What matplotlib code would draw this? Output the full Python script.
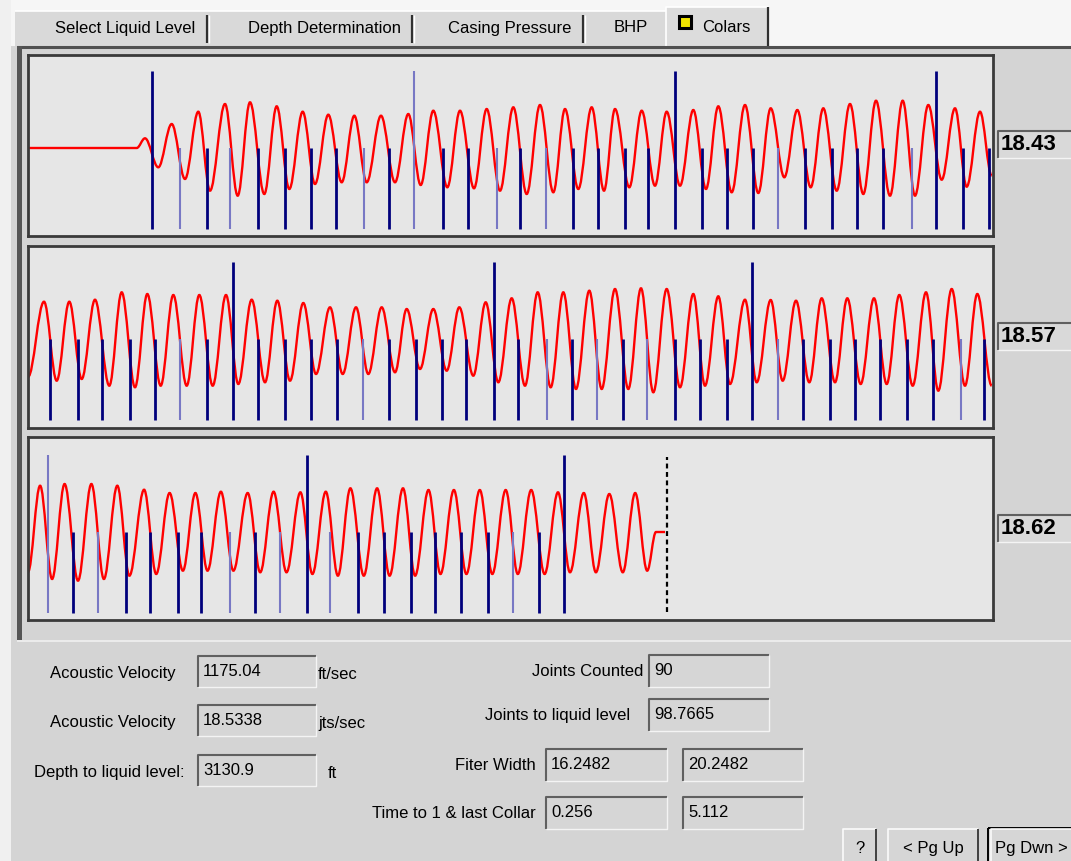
import matplotlib
matplotlib.use('Agg')
import matplotlib.pyplot as plt
from matplotlib.patches import Rectangle, PathPatch
from matplotlib.path import Path
from matplotlib import font_manager

# ---- data ----
# waveform extrema per panel: x = px from panel left, y = px above collar baseline
p1_x = [0, 108.7, 117, 130.3, 143.7, 157, 170.3, 182, 197, 209.7, 222, 236.3, 248.7, 261.3,
        274.7, 287, 300.3, 313.7, 326.3, 338.7, 353, 367, 380.3, 392.7, 405.3, 419.3, 432,
        446, 458.7, 472, 485.3, 498.7, 512, 525.3, 537, 550.3, 563.7, 576, 587, 601.3, 613.7,
        627, 638.7, 652, 665.3, 678, 690.3, 703.7, 717, 730.3, 742.7, 756.3, 769.3, 782.7,
        795.3, 808.7, 822, 835.3, 848, 862, 874.7, 887, 900.3, 913.7, 927, 938.7, 952, 963.7]
p1_y = [0, 0, 9.7, -19.3, 24, -31, 36.3, -42.7, 44, -47.7, 45.7, -46, 41.7, -41,
        36.3, -36, 33.3, -34.3, 32.3, -34.3, 32.3, -34.3, 34, -37, 37.3, -39.3, 37.3,
        -40.3, 39, -42.7, 40.7, -46, 43, -44.3, 39, -41, 40.7, -42.7, 39, -39.3, 37.3,
        -37.7, 36.3, -37.7, 38, -41, 41.7, -44.3, 43, -45, 39.7, -29.3, 38, -39.3,
        39.7, -42.7, 44, -46, 47.3, -47.7, 47.3, -47.7, 43, -31.7, 39.7, -38.7, 36.3, -27.7]

p2_x = [0, 16, 28.7, 41.3, 53.7, 67, 81.3, 93.7, 107, 119.3, 132.7, 145.3, 158.7, 171.3,
        184.7, 198, 210.3, 223.7, 237, 249.3, 262, 275.3, 288, 302, 314.7, 328, 340.3, 353.7,
        367, 378.7, 392, 405.3, 418.7, 431.3, 445.3, 457.7, 470.3, 483.7, 497, 509.7, 522.7,
        535.3, 548, 561.3, 573.7, 587, 600.3, 613, 625.3, 638.7, 652, 665.3, 677, 690.3, 702,
        717, 728.7, 742.7, 754.7, 768, 781.3, 793.7, 807, 819.3, 832.7, 846, 858.7, 871.3,
        884.7, 898, 910.3, 923.7, 937, 949.3, 963.7]
p2_y = [-38, 37.3, -41.7, 37.3, -40, 39.3, -46.7, 46.7, -48.3, 45, -46.7, 44, -46.7, 44,
        -46.7, 44, -45, 39.3, -43.3, 38.3, -41.7, 36, -35, 31.7, -35, 31.7, -35, 31.7,
        -33.3, 30, -30, 30, -31.7, 31.7, -36.7, 36.7, -43.3, 40.7, -46.7, 46.7, -48.3,
        46.7, -50, 48.3, -50, 50, -50, 50.7, -53.3, 50, -48.3, 45, -46.7, 42.7, -45,
        39.3, -43.3, 39, -41.7, 38.3, -43.3, 40.7, -43.3, 40.7, -45, 40.7, -45, 44,
        -46.7, 46.7, -51.7, 50, -46.7, 45, -46.7]

p3_x = [0, 12.1, 24.1, 36.6, 50, 63.4, 75.9, 89.3, 101.4, 116.1, 128.2, 141.6, 154.9, 167.4,
        179.5, 192.9, 205.4, 219.7, 232.2, 245.6, 258.5, 272.4, 284.4, 297.8, 309.9, 322.4,
        335.8, 349.1, 361.6, 375, 387.1, 400.5, 412.5, 425.9, 438.4, 451.8, 464.3, 477.7,
        489.8, 503.2, 516.6, 530, 542, 555.8, 567.9, 581.3, 594.8, 607.2, 619.2, 628, 637]
p3_y = [-40, 46.3, -47, 48, -48.7, 48, -47, 46.3, -43.7, 42.3, -42, 39, -38.7, 39,
        -38.7, 40.3, -38.7, 39, -40.3, 40.3, -40.3, 39.7, -42, 40.3, -43.7, 43.7,
        -43.7, 43.7, -43.7, 43.7, -43.7, 42, -42, 42, -42, 42, -42, 42,
        -42, 42, -42, 39.7, -40.3, 39, -40.3, 38, -40.3, 39, -38.7, 0, 0]

# collar marks: T = every 10th joint (tall), L = faint mark, D = normal mark
c1_x = [124, 152, 178.7, 202, 230.3, 257, 282.7, 308, 336, 361, 386, 414.7, 440.3, 468.7, 492,
        518, 544.7, 570.3, 597, 620.3, 647, 673.7, 698.7, 725.3, 750.3, 777, 803.7, 828.7,
        855.3, 883.7, 908, 934.7, 961.3]
c1_kind = ['T', 'L', 'D', 'L', 'D', 'D', 'D', 'D', 'L', 'D', 'TL', 'D', 'D', 'L', 'D',
           'L', 'D', 'D', 'D', 'D', 'T', 'D', 'D', 'D', 'L', 'D', 'D', 'D',
           'D', 'L', 'T', 'D', 'D']
c2_x = [22, 50.3, 73.7, 102, 127, 152, 178.7, 205.3, 230.3, 257, 282.7, 308.7, 335.3, 361,
        387.7, 414.3, 437.7, 466, 490.3, 518.7, 543.7, 568.7, 595.3, 618.7, 647, 672, 698.7,
        723.7, 750.3, 775.3, 802, 827, 852, 878.7, 904.7, 932.7, 956]
c2_kind = ['D', 'D', 'D', 'D', 'D', 'L', 'D', 'T', 'D', 'D', 'D', 'D', 'L', 'D',
           'D', 'D', 'D', 'T', 'D', 'L', 'D', 'L', 'D', 'L', 'D', 'D', 'D',
           'T', 'L', 'D', 'D', 'D', 'D', 'D', 'D', 'L', 'D']
c3_x = [19.7, 44.7, 70.1, 98.3, 121.5, 149.6, 172.8, 201.8, 227.3, 252.3, 278.6, 302.3,
        330.4, 355.8, 382.6, 407.2, 433.1, 459.5, 485.3, 511.2, 535.8]
c3_kind = ['TL', 'D', 'L', 'D', 'D', 'D', 'D', 'L', 'D', 'L', 'T', 'L',
           'D', 'D', 'D', 'D', 'D', 'D', 'L', 'D', 'T']
liquid_level_x = 639

panel_values = ['18.43', '18.57', '18.62']
tab_labels = ['Select Liquid Level', 'Depth Determination', 'Casing Pressure', 'BHP', 'Colars']
left_labels = ['Acoustic Velocity', 'Acoustic Velocity', 'Depth to liquid level:']
left_values = ['1175.04', '18.5338', '3130.9']
left_units = ['ft/sec', 'jts/sec', 'ft']
right_labels = ['Joints Counted', 'Joints to liquid level', 'Fiter Width', 'Time to 1 & last Collar']
right_values = [['90'], ['98.7665'], ['16.2482', '20.2482'], ['0.256', '5.112']]
button_labels = ['?', '< Pg Up', 'Pg Dwn >']

# ---- fonts ----
installed = {f.name for f in font_manager.fontManager.ttflist}
if 'Liberation Sans Narrow' in installed:
    UI_FONT, UI_SIZE = ['Liberation Sans Narrow', 'DejaVu Sans'], 14.5
else:
    UI_FONT, UI_SIZE = ['Liberation Sans', 'DejaVu Sans'], 12
plt.rcParams['font.family'] = UI_FONT

W, H = 1071, 862
BG = '#d4d4d4'
fig = plt.figure(figsize=(W / 100, H / 100), dpi=100)
fig.patch.set_facecolor(BG)

# window chrome in pixel coordinates
ui = fig.add_axes([0, 0, 1, 1])
ui.set_xlim(0, W)
ui.set_ylim(H, 0)
ui.axis('off')


def line(xs, ys, c, lw=1.0, z=2):
    ui.plot(xs, ys, color=c, lw=lw, solid_capstyle='butt', zorder=z)


def sunken(x0, y0, x1, y1, txt, fc='#d6d6d6', bold=False, size=UI_SIZE):
    ui.add_patch(Rectangle((x0, y0), x1 - x0, y1 - y0, fc=fc, ec='none', zorder=1))
    line([x0, x0, x1], [y1, y0, y0], '#606060', 1.5)
    line([x0, x1, x1], [y1, y1, y0], '#f4f4f4', 1.0)
    ui.text(x0 + (3 if bold else 5), (y0 + y1) / 2 - 1, txt, fontsize=size, va='center',
            ha='left', fontweight='bold' if bold else 'normal',
            family=['Liberation Sans', 'DejaVu Sans'] if bold else UI_FONT, zorder=3)


# top strip and left margin
ui.add_patch(Rectangle((0, 0), W, 47, fc='#f6f6f6', ec='none', zorder=0))
ui.add_patch(Rectangle((0, 0), 11, H, fc='#f0f0f0', ec='none', zorder=0))
ui.add_patch(Rectangle((15, 12), 651, 35, fc='#d9d9d9', ec='none', zorder=1))
ui.add_patch(Rectangle((666, 8), 102, 40, fc='#dcdcdc', ec='none', zorder=1))
line([15, 666], [12, 12], '#ffffff', 1.2)
line([666, 666, 768], [47, 8, 8], '#ffffff', 1.2)
line([768, 768], [8, 47], '#303030', 1.6)
for sx in [207, 412, 583]:
    line([sx, sx], [16, 44], '#303030', 1.6)
    line([sx + 2, sx + 2], [16, 44], '#ffffff', 1.0)
tab_cx = [125, 324, 510, 631, 726]
for lbl, cx in zip(tab_labels, tab_cx):
    ui.text(cx, 28, lbl, fontsize=UI_SIZE, ha='center', va='center', zorder=3)
ui.add_patch(Rectangle((679, 17), 12, 12, fc='#f2e600', ec='black', lw=2.2, zorder=3))

# frame around the plot area
line([17, W], [48, 48], '#505050', 2.2)
ui.add_patch(Rectangle((17, 47), 4.5, 594, fc='#555555', ec='none', zorder=2))
line([17, W], [642, 642], '#ececec', 1.4)

# ---- the three collar panels ----
panel_boxes = [(56, 237), (247, 429), (438, 621)]
baselines = [149, 340, 533]
waves = [(p1_x, p1_y), (p2_x, p2_y), (p3_x, p3_y)]
collars = [(c1_x, c1_kind), (c2_x, c2_kind), (c3_x, c3_kind)]
value_box_top = [132, 324, 516]


def wave_path(xs, ys, k=0.36):
    verts = [(xs[0], ys[0])]
    codes = [Path.MOVETO]
    for i in range(1, len(xs)):
        x0, y0, x1, y1 = xs[i - 1], ys[i - 1], xs[i], ys[i]
        dx = x1 - x0
        verts += [(x0 + k * dx, y0), (x1 - k * dx, y1), (x1, y1)]
        codes += [Path.CURVE4] * 3
    return Path(verts, codes)


for i in range(3):
    top, bot = panel_boxes[i]
    base = baselines[i]
    ax = fig.add_axes([28 / W, 1 - bot / H, 965 / W, (bot - top) / H])
    ax.set_facecolor('#e6e6e6')
    ax.set_xlim(0, 965)
    ax.set_ylim(base - bot, base - top)
    ax.set_xticks([])
    ax.set_yticks([])
    for sp in ax.spines.values():
        sp.set_color('#3a3a3a')
        sp.set_linewidth(2.0)

    xs, ys = waves[i]
    ax.add_patch(PathPatch(wave_path(xs, ys), fc='none', ec='#ff0000', lw=1.7, zorder=2))

    cx, kinds = collars[i]
    for x, kd in zip(cx, kinds):
        col = '#7878c4' if 'L' in kd else '#00007c'
        lw = 1.5 if 'L' in kd else 2.0
        ytop = 77.5 if 'T' in kd else 0
        ax.vlines(x, -81, ytop, colors=col, lw=lw, zorder=3)

    if i == 2:
        ax.vlines(liquid_level_x, -80, 75, colors='black', lw=1.6,
                  linestyles=(0, (2.2, 1.6)), zorder=3)

    # reading box at the right of each panel
    y0 = value_box_top[i]
    sunken(998, y0, W + 5, y0 + 27, panel_values[i], fc='#d9d9d9', bold=True, size=16)

# ---- fields below the plots ----
left_row_y = [657, 706, 756]
left_label_right = [176, 176, 184]
left_unit_x = [318, 318, 328]
for lbl, val, unit, y0, lx, ux in zip(left_labels, left_values, left_units,
                                       left_row_y, left_label_right, left_unit_x):
    ui.text(lx, y0 + 17, lbl, fontsize=UI_SIZE, ha='right', va='center')
    sunken(198, y0, 316, y0 + 31, val)
    ui.text(ux, y0 + 18, unit, fontsize=UI_SIZE, ha='left', va='center')

right_row_y = [656, 700, 750, 798]
right_label_right = [643, 630, 536, 536]
right_box_x = [[(649, 769)], [(649, 769)], [(546, 667), (683, 803)], [(546, 667), (683, 803)]]
for lbl, vals, y0, lx, boxes in zip(right_labels, right_values, right_row_y,
                                    right_label_right, right_box_x):
    ui.text(lx, y0 + 16, lbl, fontsize=UI_SIZE, ha='right', va='center')
    for v, (bx0, bx1) in zip(vals, boxes):
        sunken(bx0, y0, bx1, y0 + 32, v)

# buttons
button_x = [(842, 877), (887, 979), (988, W + 10)]
for j, (lbl, (bx0, bx1)) in enumerate(zip(button_labels, button_x)):
    ui.add_patch(Rectangle((bx0, 829), bx1 - bx0, 40, fc='#d6d6d6', ec='none', zorder=1))
    if j == 2:
        ui.add_patch(Rectangle((bx0, 829), bx1 - bx0, 40, fc='none', ec='black', lw=1.4, zorder=2))
        bx0, bx1 = bx0 + 2, bx1
    line([bx0 + 1, bx0 + 1, bx1 - 1], [H, 830.5, 830.5], '#fbfbfb', 1.2)
    line([bx1 - 1, bx1 - 1], [830.5, H], '#404040', 1.4)
    if j == 2:
        ui.text(bx0 + 5, 849, lbl, fontsize=UI_SIZE, ha='left', va='center')
    else:
        ui.text((bx0 + bx1) / 2, 849, lbl, fontsize=UI_SIZE, ha='center', va='center')

fig.savefig('out.png', dpi=100, facecolor=fig.get_facecolor())
